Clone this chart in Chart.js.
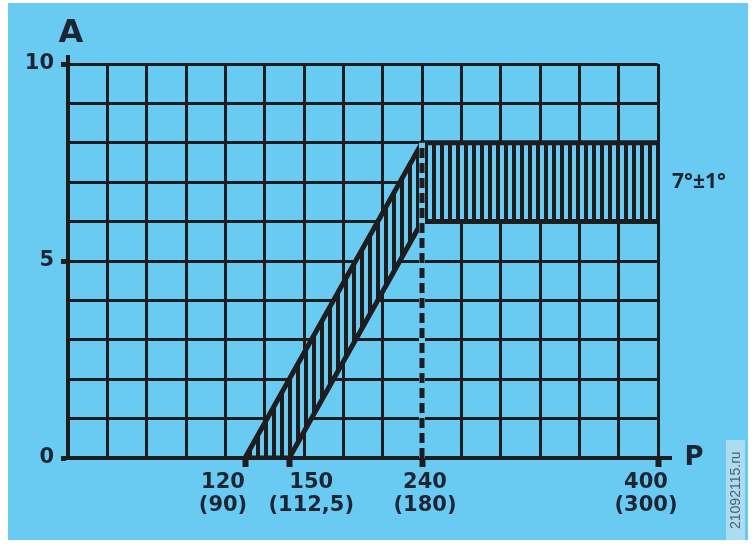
<!DOCTYPE html>
<html>
<head>
<meta charset="utf-8">
<script src="https://cdn.jsdelivr.net/npm/chart.js@4"></script>
<style>
  html, body { margin: 0; padding: 0; background: #fff; }
  #panel { position: absolute; left: 8px; top: 3px; width: 740px; height: 537px; background: #6acbf2; }
  #stamp { position: absolute; left: 718px; top: 437px; width: 19px; height: 100px; background: #acdcf0;
           color: #4b6273; font: 14px "Liberation Sans", sans-serif; writing-mode: vertical-rl;
           transform: rotate(180deg); text-align: center; line-height: 19px; }
</style>
</head>
<body>
<div id="panel">
  <canvas id="chart" width="740" height="537"></canvas>
  <div id="stamp">21092115.ru</div>
</div>
<script>
// band edges: P along x, A along y
const upperP = [120, 240, 400];
const upperA = [0, 8, 8];
const lowerP = [120, 150, 240, 400];
const lowerA = [0, 0, 6, 6];
// dashed guide at P = 240
const guideP = [240, 240];
const guideA = [0, 8];

const xTickValues = [120, 150, 240, 400];
const xTickLabels = [['120', '(90)'], ['150', '(112,5)'], ['240', '(180)'], ['400', '(300)']];
const yTickValues = [0, 5, 10];
const bandLabel = '7°±1°';
const bandLabelAt = 7;
const xTitle = 'P';
const yTitle = 'A';

const xMax = 400;
const xColumns = 15;
const yMax = 10;

const ink = '#1d1d1f';
const textColor = '#1c2533';
const bg = '#6acbf2';
const labelFont = { family: '"DejaVu Sans"', size: 21, weight: 'bold', lineHeight: 1.05 };

const ctx = document.getElementById('chart').getContext('2d');

// vertical hatching for the band, opaque so the grid does not show through
const tile = document.createElement('canvas');
tile.width = 8;
tile.height = 8;
const tctx = tile.getContext('2d');
tctx.fillStyle = bg;
tctx.fillRect(0, 0, 8, 8);
tctx.fillStyle = ink;
tctx.fillRect(0, 0, 4, 8);
const hatch = ctx.createPattern(tile, 'repeat');

const toPoints = (xs, ys) => xs.map((x, i) => ({ x: x, y: ys[i] }));

// one bottom axis per labelled tick so each label can sit a little off its tick
const labelAxis = (i, offset) => ({
    axis: 'x',
    type: 'linear',
    min: 0,
    max: xMax,
    position: { y: 0 },
    afterBuildTicks: s => { s.ticks = [{ value: xTickValues[i] }]; },
    grid: { drawOnChartArea: false, drawTicks: true, tickLength: 9, tickWidth: 6, tickColor: ink },
    border: { display: false },
    ticks: {
        autoSkip: false,
        maxRotation: 0,
        labelOffset: offset,
        padding: 5,
        color: textColor,
        font: labelFont,
        callback: () => xTickLabels[i]
    }
});

// axis overshoot and the A / P letters
const axisExtras = {
    id: 'axisExtras',
    afterDraw(chart) {
        const { ctx, chartArea } = chart;
        ctx.save();
        ctx.strokeStyle = ink;
        ctx.lineWidth = 4;
        ctx.beginPath();
        ctx.moveTo(chartArea.left, chartArea.top);
        ctx.lineTo(chartArea.left, chartArea.top - 9);
        ctx.moveTo(chartArea.right, chartArea.bottom);
        ctx.lineTo(chartArea.right + 14, chartArea.bottom);
        ctx.stroke();
        ctx.fillStyle = textColor;
        ctx.textAlign = 'center';
        ctx.textBaseline = 'alphabetic';
        ctx.font = 'bold 32px "DejaVu Sans"';
        ctx.fillText(yTitle, chartArea.left + 3, chartArea.top - 22);
        ctx.font = 'bold 26px "DejaVu Sans"';
        ctx.fillText(xTitle, chartArea.right + 36, chartArea.bottom + 7);
        ctx.restore();
    }
};

new Chart(ctx, {
    type: 'line',
    data: {
        datasets: [
            { data: toPoints(upperP, upperA), borderColor: ink, borderWidth: 5, pointRadius: 0,
              fill: '+1', backgroundColor: hatch, order: 3 },
            { data: toPoints(lowerP, lowerA), borderColor: ink, borderWidth: 5, pointRadius: 0,
              fill: false, order: 2 },
            { data: toPoints(guideP, guideA), borderColor: bg, borderWidth: 6, pointRadius: 0,
              fill: false, order: 1 },
            { data: toPoints(guideP, guideA), borderColor: ink, borderWidth: 5, borderDash: [10, 5],
              pointRadius: 0, fill: false, order: 0 }
        ]
    },
    options: {
        responsive: false,
        animation: false,
        layout: { padding: { top: 61 } },
        plugins: {
            legend: { display: false },
            tooltip: { enabled: false }
        },
        scales: {
            x: {
                type: 'linear',
                min: 0,
                max: xMax,
                afterBuildTicks: s => {
                    s.ticks = [];
                    for (let i = 0; i <= xColumns; i++) s.ticks.push({ value: xMax * i / xColumns });
                },
                afterFit: s => { s.height = 82; },
                grid: { color: ink, lineWidth: 3, drawTicks: false },
                border: { color: ink, width: 4 },
                ticks: { display: false }
            },
            xa: labelAxis(0, -22),
            xb: labelAxis(1, 22),
            xc: labelAxis(2, 3),
            xd: labelAxis(3, -12),
            y: {
                min: 0,
                max: yMax,
                afterBuildTicks: s => {
                    s.ticks = [];
                    for (let v = 0; v <= yMax; v++) s.ticks.push({ value: v });
                },
                afterFit: s => { s.width = 60; },
                grid: {
                    color: ink,
                    lineWidth: 3,
                    tickLength: 7,
                    tickWidth: 5,
                    tickColor: c => yTickValues.includes(c.tick && c.tick.value) ? ink : 'transparent'
                },
                border: { color: ink, width: 4 },
                ticks: {
                    padding: 7,
                    color: textColor,
                    font: labelFont,
                    callback: v => yTickValues.includes(v) ? String(v) : ''
                }
            },
            y2: {
                axis: 'y',
                position: 'right',
                min: 0,
                max: yMax,
                afterBuildTicks: s => { s.ticks = [{ value: bandLabelAt }]; },
                afterFit: s => { s.width = 90; },
                grid: { display: false },
                border: { display: false },
                ticks: {
                    padding: 6,
                    color: textColor,
                    font: { family: '"Noto Sans"', size: 21, weight: 'bold' },
                    callback: () => bandLabel
                }
            }
        }
    },
    plugins: [axisExtras]
});
</script>
</body>
</html>
